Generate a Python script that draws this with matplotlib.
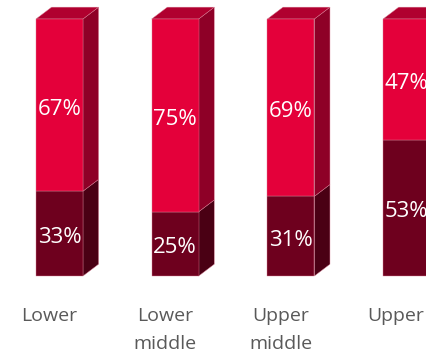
import matplotlib
matplotlib.use("Agg")
import matplotlib.pyplot as plt
from matplotlib.patches import Polygon
import matplotlib.transforms as mtransforms

categories = ["Lower", "Lower\nmiddle", "Upper\nmiddle", "Upper"]
bottom_share = [33, 25, 31, 53]
top_share = [67, 75, 69, 47]

# colours: (front, side, top) for each stack segment
top_colors = ("#E4003A", "#8E0027", "#B0002F")
bottom_colors = ("#6E001E", "#4A0014", "#6E001E")
edge = "#D98096"

plt.rcParams["font.family"] = ["Open Sans", "DejaVu Sans"]

fig = plt.figure(figsize=(4.26, 3.58), dpi=100)
ax = fig.add_axes([0, 0.229, 1, 0.718])
ax.set_xlim(-0.514, 3.168)
ax.set_ylim(0, 100)
ax.axis("off")

width = 0.406
dx = 0.135   # depth offset, x data units
dy = 4.6     # depth offset, y data units


def draw_block(x0, y0, y1, colors, top_face):
    front_c, side_c, top_c = colors
    x1 = x0 + width
    kw = dict(edgecolor=edge, linewidth=0.3, clip_on=False)
    front = Polygon([(x0, y0), (x1, y0), (x1, y1), (x0, y1)], closed=True,
                    facecolor=front_c, zorder=3, **kw)
    side = Polygon([(x1, y0), (x1 + dx, y0 + dy), (x1 + dx, y1 + dy), (x1, y1)], closed=True,
                   facecolor=side_c, zorder=2, **kw)
    ax.add_patch(side)
    ax.add_patch(front)
    if top_face:
        top = Polygon([(x0, y1), (x1, y1), (x1 + dx, y1 + dy), (x0 + dx, y1 + dy)], closed=True,
                      facecolor=top_c, zorder=2, **kw)
        ax.add_patch(top)


def value_label(x, y, value):
    ax.annotate(f"{value}%", (x, y), xytext=(0, -4), textcoords="offset pixels",
                ha="center", va="center", color="white", fontsize=16,
                zorder=5, annotation_clip=False)


for i, (b, t) in enumerate(zip(bottom_share, top_share)):
    x0 = i - width / 2
    draw_block(x0, 0, b, bottom_colors, False)
    draw_block(x0, b, b + t, top_colors, True)
    value_label(i, b / 2, b)
    value_label(i, b + t / 2, t)

trans = mtransforms.blended_transform_factory(ax.transData, fig.transFigure)
for i, name in enumerate(categories):
    ax.text(i - 0.09, 1 - 307 / 358, name, transform=trans, ha="center", va="top",
            color="#595959", fontsize=14, linespacing=1.72)

fig.savefig("out.png", dpi=100)
